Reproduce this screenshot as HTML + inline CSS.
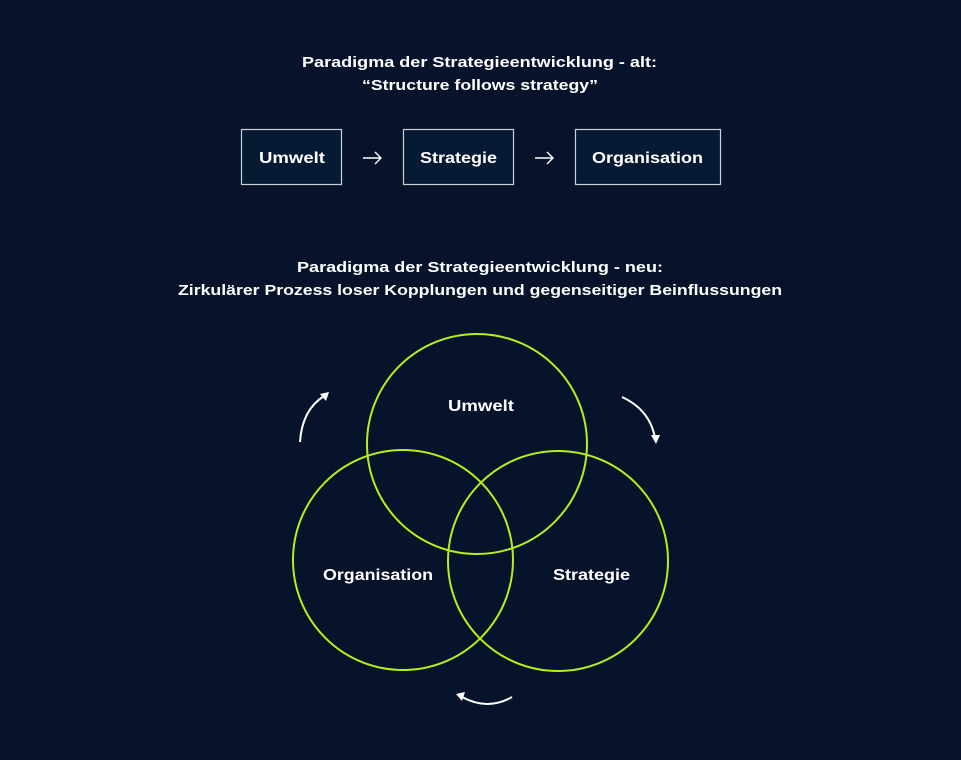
<!DOCTYPE html>
<html><head><style>
body{margin:0;width:961px;height:755px;background:#06132b;overflow:hidden;font-family:"Liberation Sans",sans-serif;}
</style></head><body>
<svg width="961" height="755" xmlns="http://www.w3.org/2000/svg" font-family="Liberation Sans, sans-serif" font-weight="bold" fill="#fff">
<text x="302" y="67" font-size="15" textLength="355" lengthAdjust="spacingAndGlyphs">Paradigma der Strategieentwicklung - alt:</text>
<text x="362" y="90" font-size="15" textLength="236" lengthAdjust="spacingAndGlyphs">“Structure follows strategy”</text>
<g stroke="#c9d0d8" stroke-width="1.2" fill="#071a33">
<rect x="241.5" y="129.5" width="100" height="55"/>
<rect x="403.5" y="129.5" width="110" height="55"/>
<rect x="575.5" y="129.5" width="145" height="55"/>
</g>
<text x="259" y="163" font-size="16" textLength="66" lengthAdjust="spacingAndGlyphs">Umwelt</text>
<text x="420" y="163" font-size="16" textLength="77" lengthAdjust="spacingAndGlyphs">Strategie</text>
<text x="592" y="163" font-size="16" textLength="111" lengthAdjust="spacingAndGlyphs">Organisation</text>
<g stroke="#fff" stroke-width="1.4" fill="none">
<path d="M363 158H381M375 152L381 158L375 164"/>
<path d="M535 158H553M547 152L553 158L547 164"/>
</g>
<text x="297" y="272" font-size="15" textLength="366" lengthAdjust="spacingAndGlyphs">Paradigma der Strategieentwicklung - neu:</text>
<text x="178" y="295" font-size="15" textLength="604" lengthAdjust="spacingAndGlyphs">Zirkulärer Prozess loser Kopplungen und gegenseitiger Beinflussungen</text>
<g stroke="#b5f01c" stroke-width="2" fill="none">
<circle cx="477" cy="444" r="110"/>
<circle cx="403" cy="560" r="110"/>
<circle cx="558" cy="561" r="110"/>
</g>
<text x="448" y="411" font-size="16" textLength="66" lengthAdjust="spacingAndGlyphs">Umwelt</text>
<text x="323" y="580" font-size="16" textLength="110" lengthAdjust="spacingAndGlyphs">Organisation</text>
<text x="553" y="580" font-size="16" textLength="77" lengthAdjust="spacingAndGlyphs">Strategie</text>
<g stroke="#fff" stroke-width="2" fill="none">
<path d="M300 442Q302 410 324 396"/>
<path d="M622 397Q650 410 655 438"/>
<path d="M512 697Q488 711 462 697"/>
</g>
<g fill="#fff">
<path d="M329 392L320 394L326 401Z"/>
<path d="M656 444L651 435L660 435Z"/>
<path d="M456 694L465 692L462 701Z"/>
</g>
</svg>
</body></html>
